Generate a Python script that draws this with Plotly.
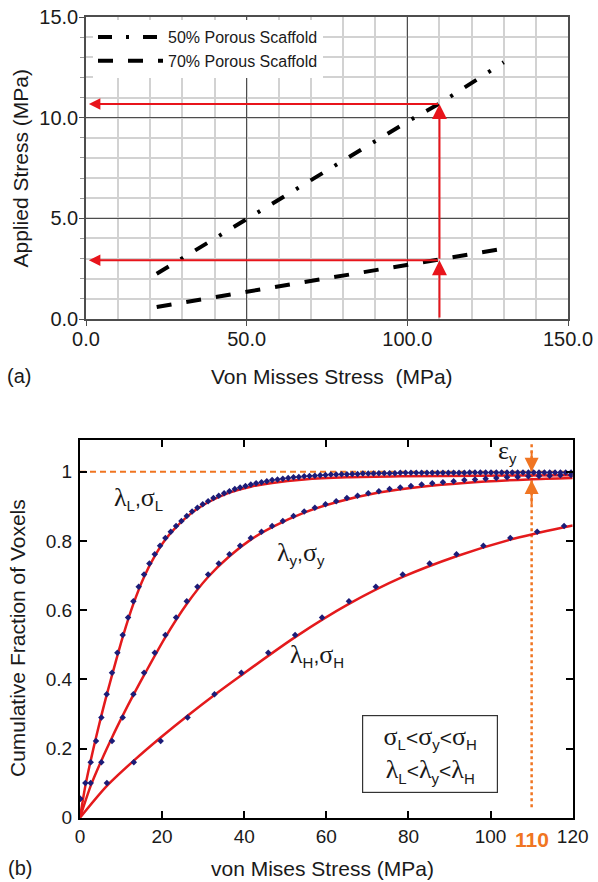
import plotly.graph_objects as go

W, H = 598, 882

# ---------------- (a) data ----------------
stress_50 = [22, 50, 100, 110, 130]
applied_50 = [2.25, 4.95, 9.8, 10.7, 12.75]
stress_70 = [22, 50, 100, 110, 132]
applied_70 = [0.6, 1.35, 2.7, 2.92, 3.55]
threshold = 110.0
applied_at_thr_50 = 10.68
applied_at_thr_70 = 2.92
xa_ticks = [0, 50, 100, 150]
xa_text = ["0.0", "50.0", "100.0", "150.0"]
ya_ticks = [0, 5, 10, 15]
ya_text = ["0.0", "5.0", "10.0", "15.0"]

# ---------------- (b) data ----------------
cdf_levels = [0.055, 0.100, 0.160, 0.222, 0.290, 0.357, 0.419, 0.477, 0.528, 0.579,
              0.626, 0.668, 0.703, 0.735, 0.762, 0.786, 0.809, 0.827, 0.843, 0.858,
              0.872, 0.885, 0.896, 0.906, 0.915, 0.924, 0.931, 0.938, 0.944, 0.950,
              0.955, 0.959, 0.963, 0.967, 0.970, 0.973, 0.976, 0.978, 0.980, 0.982,
              0.984, 0.985, 0.987, 0.988, 0.989, 0.990, 0.991, 0.992, 0.992, 0.993,
              0.993, 0.994, 0.994, 0.995, 0.995, 0.995, 0.996, 0.996, 0.996, 0.996,
              0.997, 0.997, 0.997, 0.997, 0.997, 0.997, 0.997, 0.997, 0.997, 0.997,
              0.997, 0.997, 0.997, 0.998, 0.998, 0.998, 0.998, 0.998, 0.998, 0.998,
              0.998, 0.998, 0.998, 0.998, 0.998, 0.998, 0.998, 0.998, 0.998, 0.998,
              0.998, 0.998, 0.998]
x_L = [0, 1.3, 2.6, 3.9, 5.2, 6.5, 7.8, 9.1, 10.4, 11.7, 13.0, 14.3, 15.6, 16.9, 18.2,
       19.5, 20.8, 22.1, 23.4, 24.7, 26.0, 27.3, 28.6, 29.9, 31.2, 32.5, 33.8, 35.1,
       36.4, 37.7, 39.0, 40.3, 41.6, 42.9, 44.2, 45.5, 46.8, 48.1, 49.4, 50.7, 52.0,
       53.3, 54.6, 55.9, 57.2, 58.5, 59.8, 61.1, 62.4, 63.7, 65.0, 66.3, 67.6, 68.9,
       70.2, 71.5, 72.8, 74.1, 75.4, 76.7, 78.0, 79.3, 80.6, 81.9, 83.2, 84.5, 85.8,
       87.1, 88.4, 89.7, 91.0, 92.3, 93.6, 94.9, 96.2, 97.5, 98.8, 100.1, 101.4,
       102.7, 104.0, 105.3, 106.6, 107.9, 109.2, 110.5, 111.8, 113.1, 114.4, 115.7,
       117.0, 118.3, 119.6]
x_Y = [0, 2.6, 5.2, 7.8, 10.4, 13.0, 15.6, 18.2, 20.8, 23.4, 26.0, 28.6, 31.2, 33.8,
       36.4, 39.0, 41.6, 44.2, 46.8, 49.4, 52.0, 54.6, 57.2, 59.8, 62.4, 65.0, 67.6,
       70.2, 72.8, 75.4, 78.0, 80.6, 83.2, 85.8, 88.4, 91.0, 93.6, 96.2, 98.8, 101.4,
       104.0, 106.6, 109.2, 111.8, 114.4, 117.0, 119.6]
x_H = [0, 6.55, 13.1, 19.65, 26.2, 32.75, 39.3, 45.85, 52.4, 58.95, 65.5, 72.05,
       78.6, 85.15, 91.7, 98.25, 104.8, 111.35, 117.9]

fit_L_x = [0, 1.3, 2.6, 3.9, 5.2, 6.5, 7.8, 10.4, 13, 15.6, 18.2, 20.8, 23.4, 27.3,
           31.2, 36.4, 41.6, 46.8, 54.6, 65, 78, 97.5, 120]
fit_L_y = [0, 0.092, 0.165, 0.232, 0.295, 0.355, 0.412, 0.522, 0.618, 0.696, 0.756,
           0.804, 0.84, 0.882, 0.912, 0.94, 0.957, 0.968, 0.978, 0.984, 0.987, 0.989, 0.99]
fit_Y_x = [0, 2.6, 5.2, 7.8, 10.4, 13, 15.6, 20.8, 26, 31.2, 36.4, 41.6, 46.8, 54.6,
           62.4, 72.8, 83.2, 93.6, 109.2, 120]
fit_Y_y = [0, 0.092, 0.165, 0.232, 0.295, 0.355, 0.412, 0.522, 0.618, 0.696, 0.756,
           0.804, 0.84, 0.882, 0.912, 0.94, 0.957, 0.968, 0.978, 0.982]
fit_H_x = [0, 6.55, 13.1, 19.65, 26.2, 32.75, 39.3, 52.4, 65.5, 78.6, 91.7, 104.8, 117.9, 120]
fit_H_y = [0, 0.092, 0.165, 0.232, 0.295, 0.355, 0.412, 0.522, 0.618, 0.696, 0.756,
           0.804, 0.84, 0.845]
xb_ticks = [0, 20, 40, 60, 80, 100, 120]
yb_ticks = [0, 0.2, 0.4, 0.6, 0.8, 1.0]
yb_text = ["0", "0.2", "0.4", "0.6", "0.8", "1"]
eps_upper = 1.0
eps_lower = 0.976

RED = "#e8141b"
FITRED = "#e41a1c"
ORANGE = "#f07522"
NAVY = "#1c1c78"
SANS = "Liberation Sans, Arial, sans-serif"
TXT = "#1a1a1a"

fig = go.Figure()

# ---- (a) traces
fig.add_trace(go.Scatter(x=stress_50, y=applied_50, mode="lines", name="50% Porous Scaffold",
                         line=dict(color="black", width=4, dash="14px,14px,3px,14px"),
                         xaxis="x", yaxis="y"))
fig.add_trace(go.Scatter(x=stress_70, y=applied_70, mode="lines", name="70% Porous Scaffold",
                         line=dict(color="black", width=4, dash="15px,15px"),
                         xaxis="x", yaxis="y"))

# ---- (b) traces
fig.add_trace(go.Scatter(x=[0, 120], y=[1, 1], mode="lines", showlegend=False,
                         line=dict(color=ORANGE, width=2, dash="6px,4px"),
                         xaxis="x2", yaxis="y2"))
fig.add_trace(go.Scatter(x=[threshold, threshold], y=[0.03, 1.088], mode="lines", showlegend=False,
                         line=dict(color=ORANGE, width=2.5, dash="dot"),
                         xaxis="x2", yaxis="y2"))
for fx, fy in [(fit_L_x, fit_L_y), (fit_Y_x, fit_Y_y), (fit_H_x, fit_H_y)]:
    fig.add_trace(go.Scatter(x=fx, y=fy, mode="lines", showlegend=False,
                             line=dict(color=FITRED, width=2.5, shape="spline", smoothing=0.8),
                             xaxis="x2", yaxis="y2"))
for mx in [x_L, x_Y, x_H]:
    fig.add_trace(go.Scatter(x=mx, y=cdf_levels[:len(mx)], mode="markers", showlegend=False,
                             marker=dict(symbol="diamond", size=5, color=NAVY),
                             xaxis="x2", yaxis="y2"))

ann = []
# ---- (a) red arrows
def arrow(x, y, ax, ay, size):
    return dict(x=x, y=y, ax=ax, ay=ay, xref="x", yref="y", axref="x", ayref="y",
                showarrow=True, arrowhead=2, arrowsize=size, arrowwidth=2,
                arrowcolor=RED, text="", standoff=0)
ann.append(arrow(threshold, applied_at_thr_70, threshold, 0, 1.5))
ann.append(arrow(threshold, applied_at_thr_50, threshold, applied_at_thr_70, 1.5))
ann.append(arrow(0.9, applied_at_thr_50, threshold, applied_at_thr_50, 1.15))
ann.append(arrow(0.9, applied_at_thr_70, threshold, applied_at_thr_70, 1.15))

# ---- (b) epsilon arrows
ann.append(dict(x=threshold, y=eps_upper, xref="x2", yref="y2", ax=0, ay=-22,
                showarrow=True, arrowhead=2, arrowsize=1.4, arrowwidth=2,
                arrowcolor=ORANGE, text=""))
ann.append(dict(x=threshold, y=eps_lower, xref="x2", yref="y2", ax=0, ay=26,
                showarrow=True, arrowhead=2, arrowsize=1.4, arrowwidth=2,
                arrowcolor=ORANGE, text=""))


def g(s):
    return f"<span style='font-family:Liberation Serif'>{s}</span>"


def sub(s):
    return f"<sub><span style='font-family:Liberation Sans;font-size:15px'>{s}</span></sub>"


def sym(s):
    return f"<span style='font-family:Liberation Sans;font-size:21px'>{s}</span>"


GFONT = dict(family="Liberation Serif", size=26, color=TXT)
ann.append(dict(x=104.0, y=1.058, xref="x2", yref="y2", showarrow=False,
                text=g("ε") + sub("y"), font=GFONT, xanchor="center", yanchor="middle"))
ann.append(dict(x=14.3, y=0.922, xref="x2", yref="y2", showarrow=False,
                text=g("λ") + sub("L") + sym(",") + g("σ") + sub("L"), font=GFONT,
                xanchor="center", yanchor="middle"))
ann.append(dict(x=53.8, y=0.765, xref="x2", yref="y2", showarrow=False,
                text=g("λ") + sub("y") + sym(",") + g("σ") + sub("y"), font=GFONT,
                xanchor="center", yanchor="middle"))
ann.append(dict(x=57.7, y=0.47, xref="x2", yref="y2", showarrow=False,
                text=g("λ") + sub("H") + sym(",") + g("σ") + sub("H"), font=GFONT,
                xanchor="center", yanchor="middle"))
box_txt = (g("σ") + sub("L") + sym("<") + g("σ") + sub("y") + sym("<") + g("σ") + sub("H") + "<br>"
           + g("λ") + sub("L") + sym("<") + g("λ") + sub("y") + sym("<") + g("λ") + sub("H"))
ann.append(dict(x=85.2, y=0.183, xref="x2", yref="y2", showarrow=False, text=box_txt,
                font=GFONT, bordercolor="#333", borderwidth=1.2,
                width=132, height=74, borderpad=1, bgcolor="white", align="center", valign="middle",
                xanchor="center", yanchor="middle"))
ann.append(dict(x=threshold, y=1 - 839 / H, xref="x2", yref="paper", showarrow=False, text="<b>110</b>",
                font=dict(family=SANS, size=21, color=ORANGE), xanchor="center", yanchor="middle"))

# ---- titles
def ptext(x, y, text, size, angle=0):
    return dict(x=x / W, y=1 - y / H, xref="paper", yref="paper", showarrow=False, text=text,
                textangle=angle, xanchor="center", yanchor="middle",
                font=dict(family=SANS, size=size, color=TXT))


ann.append(ptext(332, 376, "Von Misses Stress  (MPa)", 21))
ann.append(ptext(20, 168.5, "Applied Stress (MPa)", 21, -90))
ann.append(ptext(19, 376, "(a)", 20))
ann.append(ptext(322, 868, "von Mises Stress (MPa)", 21))
ann.append(ptext(17, 638, "Cumulative Fraction of Voxels", 21, -90))
ann.append(ptext(20, 868, "(b)", 20))

tickfont_a = dict(family=SANS, size=20, color=TXT)
tickfont_b = dict(family=SANS, size=19, color=TXT)

fig.update_layout(
    width=W, height=H, margin=dict(l=0, r=0, t=0, b=0, autoexpand=False),
    paper_bgcolor="white", plot_bgcolor="white",
    showlegend=True,
    legend=dict(x=93 / W, y=1 - 20 / H, xanchor="left", yanchor="top", bgcolor="white",
                font=dict(family=SANS, size=16, color=TXT), itemwidth=65,
                tracegroupgap=0),
    xaxis=dict(domain=[86 / W, 568 / W], range=[0, 150], anchor="y", automargin=False,
               tickvals=xa_ticks, ticktext=xa_text, tickfont=tickfont_a,
               showgrid=True, gridcolor="#4d4d4d", gridwidth=1,
               minor=dict(dtick=10, showgrid=True, gridcolor="#d2d2d2", gridwidth=1.5),
               showline=True, linecolor="#4d4d4d", linewidth=1.5, mirror=True,
               ticks="outside", ticklen=5, tickcolor="#4d4d4d", zeroline=False,
               ticklabelstandoff=-4),
    yaxis=dict(domain=[1 - 319 / H, 1 - 17 / H], range=[0, 15], anchor="x", automargin=False,
               tickvals=ya_ticks, ticktext=ya_text, tickfont=tickfont_a,
               showgrid=True, gridcolor="#4d4d4d", gridwidth=1,
               minor=dict(dtick=1, showgrid=True, gridcolor="#d2d2d2", gridwidth=1.5,
                          ticks="outside", ticklen=4, tickcolor="#999"),
               showline=True, linecolor="#4d4d4d", linewidth=1.5, mirror=True,
               ticks="outside", ticklen=5, tickcolor="#4d4d4d", zeroline=False,
               ticklabelstandoff=-3),
    xaxis2=dict(domain=[80 / W, 572.7 / W], range=[0, 120], anchor="y2", automargin=False,
                tickvals=xb_ticks, tickfont=tickfont_b, showgrid=False,
                showline=True, linecolor="black", linewidth=2, mirror="ticks",
                ticks="inside", ticklen=7, tickwidth=1.5, tickcolor="black", zeroline=False,
                ticklabelstandoff=0),
    yaxis2=dict(domain=[1 - 817.7 / H, 1 - 440 / H], range=[0, 1.092], anchor="x2", automargin=False,
                tickvals=yb_ticks, ticktext=yb_text, tickfont=tickfont_b, showgrid=False,
                showline=True, linecolor="black", linewidth=2, mirror="ticks",
                ticks="inside", ticklen=7, tickwidth=1.5, tickcolor="black", zeroline=False,
                ticklabelstandoff=2),
    annotations=ann,
)

fig.write_html("out.html")
